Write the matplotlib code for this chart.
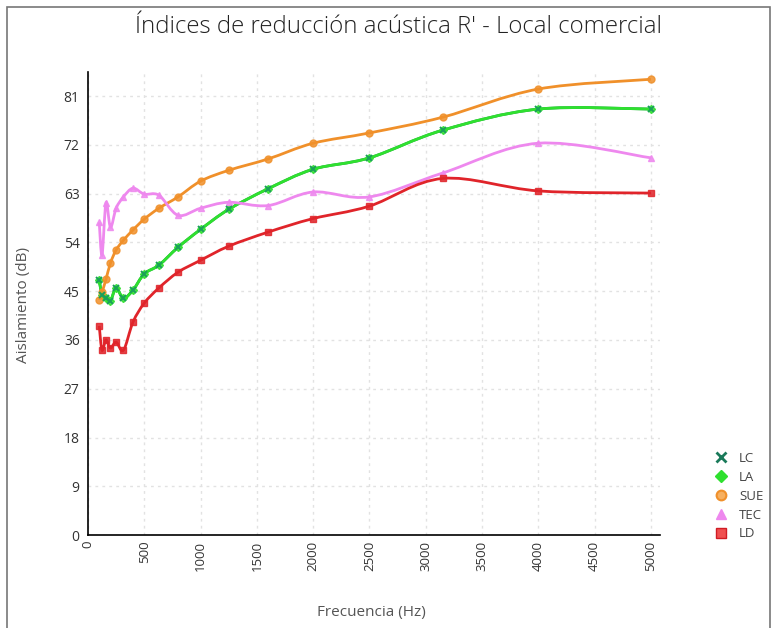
import numpy as np
import matplotlib.pyplot as plt
from matplotlib.path import Path
from matplotlib.patches import PathPatch, Rectangle
from matplotlib.lines import Line2D

plt.rcParams['font.family'] = ['Open Sans', 'DejaVu Sans']

# bandas de tercio de octava (Hz)
freqs = [100, 125, 160, 200, 250, 315, 400, 500, 630, 800, 1000,
         1250, 1600, 2000, 2500, 3150, 4000, 5000]

# aislamiento por elemento (dB)
lc = [47.0, 44.3, 43.7, 43.2, 45.6, 43.7, 45.2, 48.2, 49.8, 53.1, 56.4,
      60.1, 63.9, 67.5, 69.6, 74.7, 78.6, 78.6]
la = lc
sue = [43.4, 44.8, 47.2, 50.2, 52.6, 54.4, 56.3, 58.3, 60.3, 62.4, 65.3,
       67.3, 69.4, 72.3, 74.2, 77.1, 82.3, 84.1]
tec = [57.7, 51.7, 61.3, 56.8, 60.3, 62.4, 64.0, 62.9, 62.7, 59.0, 60.3,
       61.4, 60.8, 63.3, 62.4, 66.8, 72.3, 69.6]
ld = [38.6, 34.1, 36.0, 34.5, 35.6, 34.1, 39.3, 42.8, 45.6, 48.5, 50.7,
      53.3, 55.9, 58.4, 60.7, 65.8, 63.5, 63.1]

series = [
    ("LC", lc, "#1f9a4a", "x", "#1a7a5a"),
    ("LA", la, "#2fe02f", "D", "#2fe02f"),
    ("SUE", sue, "#f0902a", "o", "#f0902a"),
    ("TEC", tec, "#ee88ee", "^", "#ee88ee"),
    ("LD", ld, "#e0242a", "s", "#e0242a"),
]


def spline_path(x, y):
    # Catmull-Rom convertido a tramos Bezier cubicos
    pts = np.column_stack([x, y]).astype(float)
    n = len(pts)
    verts = [pts[0]]
    codes = [Path.MOVETO]
    for i in range(n - 1):
        p0 = pts[max(i - 1, 0)]
        p1 = pts[i]
        p2 = pts[i + 1]
        p3 = pts[min(i + 2, n - 1)]
        c1 = p1 + (p2 - p0) / 6.0
        c2 = p2 - (p3 - p1) / 6.0
        verts += [c1, c2, p2]
        codes += [Path.CURVE4] * 3
    return Path(verts, codes)


fig = plt.figure(figsize=(7.73, 6.28), dpi=100)
ax = fig.add_axes([0.1138, 0.148, 0.740, 0.737])

# marco exterior
fig.patches.append(Rectangle((7 / 773, -0.05), 763 / 773, 1.05 - 7 / 628,
                             transform=fig.transFigure, fill=False,
                             edgecolor="#777777", linewidth=1.2))

for name, vals, lcolor, marker, mcolor in series:
    ax.add_patch(PathPatch(spline_path(freqs, vals), fill=False,
                           edgecolor=lcolor, linewidth=2.0, zorder=3))

for name, vals, lcolor, marker, mcolor in series:
    if name == "LC":
        continue
    ms = 4 if marker == "D" else 5
    ax.plot(freqs, vals, linestyle="none", marker=marker, markersize=ms,
            markerfacecolor=mcolor, markeredgecolor=lcolor, alpha=0.85, zorder=4)
ax.plot(freqs, lc, linestyle="none", marker="x", markersize=5,
        markeredgewidth=1.4, color="#1aa05a", zorder=5)

ax.set_xlim(0, 5080)
ax.set_ylim(0, 85.4)
ax.set_xticks(np.arange(0, 5001, 500))
ax.set_yticks(np.arange(0, 82, 9))
ax.tick_params(axis="x", labelrotation=90, length=0, labelsize=9.5,
               labelcolor="#333333", pad=4)
ax.tick_params(axis="y", length=0, labelsize=10, labelcolor="#333333", pad=6)
ax.grid(True, linestyle=(0, (2, 3)), color="#e2e2e2", linewidth=1)
ax.set_axisbelow(True)
for side in ["top", "right"]:
    ax.spines[side].set_visible(False)
ax.spines["left"].set_linewidth(1.2)
ax.spines["bottom"].set_linewidth(1.2)

fig.text(0.516, 0.957, "Índices de reducción acústica R' - Local comercial",
         ha="center", va="center", fontsize=17.3, fontweight="light",
         color="#222222")
fig.text(0.030, 0.514, "Aislamiento (dB)", rotation=90, ha="center",
         va="center", fontsize=11, color="#555555")
fig.text(0.481, 0.025, "Frecuencia (Hz)", ha="center", va="center",
         fontsize=11, color="#555555")

handles = [Line2D([], [], linestyle="none", marker="x", markersize=7,
                  markeredgewidth=2, color="#1a7a5a"),
           Line2D([], [], linestyle="none", marker="D", markersize=6,
                  color="#2fe02f"),
           Line2D([], [], linestyle="none", marker="o", markersize=7,
                  markerfacecolor="#f7b060", markeredgecolor="#f0902a",
                  markeredgewidth=1.5),
           Line2D([], [], linestyle="none", marker="^", markersize=7,
                  color="#ee88ee"),
           Line2D([], [], linestyle="none", marker="s", markersize=7,
                  markerfacecolor="#f05050", markeredgecolor="#d01c24")]
fig.legend(handles, [s[0] for s in series], loc="center left",
           bbox_to_anchor=(0.900, 0.210), frameon=False, fontsize=9.5,
           handletextpad=0.4, labelspacing=0.45, labelcolor="#444444")

fig.savefig("out.png", dpi=100)
